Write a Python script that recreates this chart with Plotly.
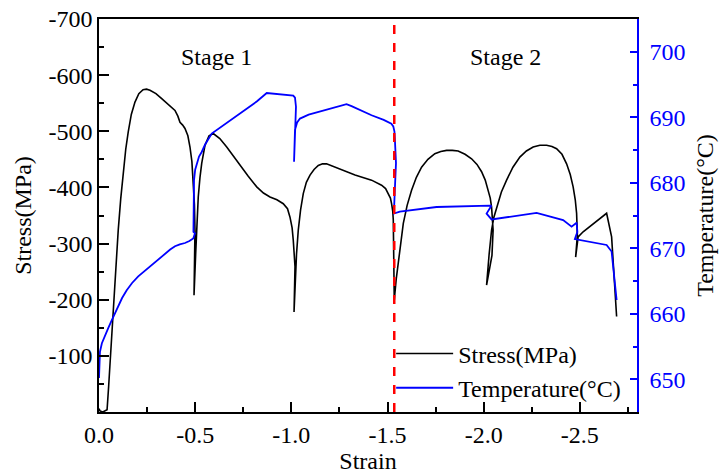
import plotly.graph_objects as go

# ---- data ----
stress_strain = [0.0, -0.005, -0.02, -0.042, -0.050, -0.057, -0.065, -0.073, -0.086, -0.100, -0.113,
                 -0.126, -0.139, -0.152, -0.168, -0.187, -0.207, -0.229, -0.247, -0.265, -0.296,
                 -0.326, -0.360, -0.395, -0.410, -0.421, -0.435, -0.447, -0.462, -0.473, -0.483,
                 -0.490, -0.496, -0.499, -0.494, -0.503, -0.508, -0.516, -0.525, -0.534, -0.551, -0.572,
                 -0.594, -0.628, -0.664, -0.700, -0.733, -0.776, -0.820, -0.855, -0.889, -0.925, -0.958,
                 -0.980, -0.993, -1.004, -1.010, -1.016, -1.019, -1.014,
                 -1.019, -1.027, -1.036, -1.048, -1.062, -1.078, -1.097, -1.118, -1.140, -1.162, -1.183,
                 -1.244, -1.331, -1.417, -1.469, -1.490, -1.504,
                 -1.515, -1.521, -1.527, -1.530, -1.535, -1.545, -1.556, -1.568, -1.582, -1.602, -1.625,
                 -1.650, -1.677, -1.710, -1.746, -1.777, -1.807, -1.837, -1.867, -1.903, -1.937,
                 -1.965, -1.989, -2.008, -2.023, -2.034, -2.041, -2.046, -2.049, -2.043, -2.015,
                 -2.028, -2.041, -2.053, -2.067, -2.092, -2.119, -2.152, -2.188, -2.222, -2.257,
                 -2.292, -2.327, -2.355, -2.379, -2.407, -2.431, -2.450, -2.465, -2.476, -2.483,
                 -2.487, -2.478, -2.491, -2.517, -2.639, -2.665, -2.691]
stress_mpa = [-6, -2, 0, -4, -45, -87, -132, -176, -252, -324, -380,
              -430, -468, -499, -530, -552, -567, -574, -575, -573, -567,
              -558, -548, -537, -527, -516, -511, -505, -492, -472, -446,
              -413, -370, -324, -208, -285, -324, -383, -418, -443, -475, -492,
              -496, -487, -472, -455, -439, -420, -401, -390, -383, -378, -371,
              -362, -347, -328, -306, -283, -259, -178,
              -235, -282, -324, -360, -389, -409, -422, -432, -439, -442, -442,
              -434, -422, -413, -404, -398, -389,
              -381, -371, -358, -342, -199, -236, -265, -303, -336, -368, -395,
              -418, -436, -450, -460, -464, -466, -466, -465, -459, -451,
              -441, -428, -413, -395, -381, -365, -345, -324, -279, -226,
              -280, -324, -347, -365, -392, -413, -436, -454, -465, -472,
              -475, -475, -473, -469, -459, -442, -423, -401, -378, -354,
              -315, -276, -312, -321, -354, -312, -170]

temp_strain = [0.0, -0.005, -0.015, -0.031, -0.048, -0.066, -0.083, -0.100, -0.120, -0.144, -0.172, -0.204,
               -0.240, -0.274, -0.308, -0.343, -0.370, -0.395, -0.420, -0.447, -0.470,
               -0.490, -0.499, -0.491, -0.494, -0.500, -0.508, -0.520, -0.534, -0.551, -0.586, -0.820,
               -0.872, -1.010, -1.019, -1.022, -1.024, -1.014, -1.016, -1.019, -1.030, -1.045, -1.090,
               -1.140, -1.287, -1.313, -1.417, -1.480, -1.504, -1.520, -1.530, -1.536, -1.538,
               -1.541, -1.544, -1.538, -1.533, -1.564, -1.755, -2.032, -2.040, -2.015, -2.041, -2.275,
               -2.413, -2.457, -2.483, -2.487, -2.474, -2.639, -2.665, -2.691]
temperature_c = [650.2, 654.2, 655.5, 656.5, 657.8, 659.0, 660.1, 661.1, 662.4, 663.6, 664.7, 665.7,
                 666.6, 667.4, 668.3, 669.2, 669.8, 670.3, 670.6, 670.8, 671.1,
                 671.5, 672.3, 672.5, 680.4, 682.0, 683.0, 684.0, 684.7, 685.8, 687.5, 692.4,
                 693.7, 693.3, 693.0, 692.5, 691.6, 683.2, 686.0, 688.1, 689.2, 689.8, 690.4,
                 690.8, 692.0, 691.7, 690.3, 689.6, 689.3, 689.0, 688.6, 687.8, 686.8,
                 685.0, 683.0, 678.9, 675.3, 675.6, 676.3, 676.5, 676.5, 675.3, 674.4, 675.4,
                 674.3, 673.3, 673.9, 672.5, 671.4, 670.5, 669.5, 662.1]

stage_divider_strain = -1.535
stage_labels = ["Stage 1", "Stage 2"]
stage_label_strain = [-0.613, -2.115]
stage_label_stress = [-632, -632]

x_tickvals = [0.0, -0.5, -1.0, -1.5, -2.0, -2.5]
x_ticktext = ["0.0", "-0.5", "-1.0", "-1.5", "-2.0", "-2.5"]
y_tickvals = [-700, -600, -500, -400, -300, -200, -100]
y_ticktext = ["-700", "-600", "-500", "-400", "-300", "-200", "-100"]
y2_tickvals = [650, 660, 670, 680, 690, 700]
y2_ticktext = ["650", "660", "670", "680", "690", "700"]

FONT = "Liberation Serif, Times New Roman, serif"
FS = 24

fig = go.Figure()
fig.add_trace(go.Scatter(x=stress_strain, y=stress_mpa, mode="lines", name="Stress(MPa)",
                         line=dict(color="black", width=1.6), yaxis="y"))
fig.add_trace(go.Scatter(x=temp_strain, y=temperature_c, mode="lines", name="Temperature(°C)",
                         line=dict(color="#0000ff", width=1.8), yaxis="y2"))

fig.add_shape(type="line", xref="x", yref="paper", x0=stage_divider_strain, x1=stage_divider_strain,
              y0=0, y1=1, line=dict(color="#ff0000", width=2.5, dash="dash"))

for lbl, sx, sy in zip(stage_labels, stage_label_strain, stage_label_stress):
    fig.add_annotation(x=sx, y=sy, xref="x", yref="y", text=lbl, showarrow=False,
                       font=dict(family=FONT, size=FS, color="black"))

fig.update_layout(
    width=723, height=474,
    margin=dict(l=99, r=86, t=19, b=62, autoexpand=False),
    paper_bgcolor="white", plot_bgcolor="white",
    font=dict(family=FONT, size=FS, color="black"),
    showlegend=True,
    legend=dict(x=0.543, y=0.205, xanchor="left", yanchor="top", bgcolor="rgba(0,0,0,0)",
                font=dict(family=FONT, size=FS), itemwidth=57, tracegroupgap=0),
    xaxis=dict(range=[0, -2.797], tickmode="array", tickvals=x_tickvals, ticktext=x_ticktext,
               automargin=False,
               ticks="inside", ticklen=10, tickwidth=1.5, tickcolor="black",
               minor=dict(tickmode="linear", tick0=0, dtick=0.25, ticks="inside", ticklen=5,
                          tickcolor="black", tickwidth=1.5, showgrid=False),
               showline=True, linecolor="black", linewidth=1.5, mirror=True,
               showgrid=False, zeroline=False,
               title=dict(text="Strain", font=dict(family=FONT, size=FS), standoff=4),
               tickfont=dict(family=FONT, size=FS, color="black")),
    yaxis=dict(range=[0, -700], tickmode="array", tickvals=y_tickvals, ticktext=y_ticktext,
               automargin=False,
               ticks="inside", ticklen=10, tickwidth=1.5, tickcolor="black",
               minor=dict(tickmode="linear", tick0=0, dtick=50, ticks="inside", ticklen=5,
                          tickcolor="black", tickwidth=1.5, showgrid=False),
               showline=True, linecolor="black", linewidth=1.5,
               showgrid=False, zeroline=False,
               title=dict(text="Stress(MPa)", font=dict(family=FONT, size=FS), standoff=10),
               tickfont=dict(family=FONT, size=FS, color="black")),
    yaxis2=dict(range=[645, 705], overlaying="y", side="right", anchor="x",
                automargin=False,
                tickmode="array", tickvals=y2_tickvals, ticktext=y2_ticktext,
                ticks="inside", ticklen=7, tickwidth=1.5, tickcolor="#0000ff",
                ticklabelstandoff=6,
                minor=dict(tickmode="linear", tick0=645, dtick=5, ticks="inside", ticklen=4,
                           tickcolor="#0000ff", tickwidth=1.5, showgrid=False),
                showline=True, linecolor="#0000ff", linewidth=1.5,
                showgrid=False, zeroline=False,
                title=dict(text="Temperature(°C)", font=dict(family=FONT, size=FS, color="black"), standoff=12),
                tickfont=dict(family=FONT, size=FS, color="#0000ff")),
)

fig.write_html("out.html")
